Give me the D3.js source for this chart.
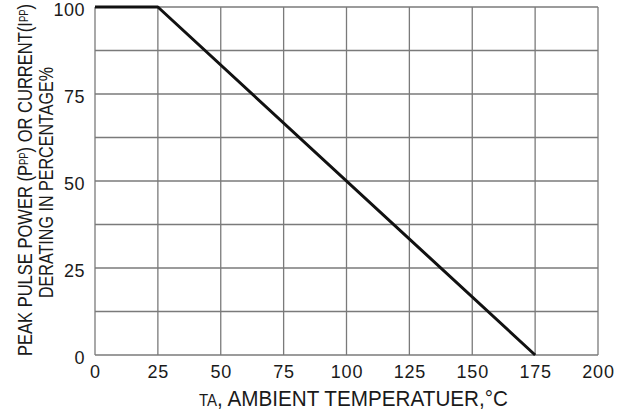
<!DOCTYPE html>
<html>
<head>
<meta charset="utf-8">
<script src="https://cdn.jsdelivr.net/npm/d3@7"></script>
<style>
  html, body { margin: 0; padding: 0; background: #fff; }
  svg { display: block; }
  text { font-family: "Liberation Sans", Arial, sans-serif; fill: #1a1a1a; }
</style>
</head>
<body>
<svg id="chart" width="631" height="412"></svg>
<script>
// Data
const temperature = [0, 25, 175];          // °C
const derating = [100, 100, 0];            // %
const xTicks = [0, 25, 50, 75, 100, 125, 150, 175, 200];
const yTicks = [0, 25, 50, 75, 100];
const yGrid = [0, 12.5, 25, 37.5, 50, 62.5, 75, 87.5, 100];

const svg = d3.select("#chart");
const plotLeft = 95, plotRight = 598, plotTop = 7, plotBottom = 355;

const x = d3.scaleLinear().domain([0, 200]).range([plotLeft, plotRight]);
const y = d3.scaleLinear().domain([0, 100]).range([plotBottom, plotTop]);

// Grid
const grid = svg.append("g");
grid.selectAll("line.v").data(xTicks).join("line")
  .attr("class", "v")
  .attr("x1", d => x(d)).attr("x2", d => x(d))
  .attr("y1", plotTop).attr("y2", plotBottom)
  .attr("stroke", "#7a7a7a").attr("stroke-width", 1.3);
grid.selectAll("line.h").data(yGrid).join("line")
  .attr("class", "h")
  .attr("y1", d => y(d)).attr("y2", d => y(d))
  .attr("x1", plotLeft).attr("x2", plotRight)
  .attr("stroke", "#7a7a7a").attr("stroke-width", 1.3);

// Axes (labels only)
const xAxis = d3.axisBottom(x).tickValues(xTicks).tickSize(0).tickPadding(0);
const gx = svg.append("g").attr("transform", `translate(0,${plotBottom})`).call(xAxis);
gx.select(".domain").remove();
gx.selectAll("text")
  .attr("dy", null).attr("y", 23)
  .style("font-size", "18px").style("letter-spacing", "0.8px")
  .attr("fill", "#1a1a1a");

const yAxis = d3.axisLeft(y).tickValues(yTicks).tickSize(0).tickPadding(0);
const gy = svg.append("g").attr("transform", `translate(${plotLeft},0)`).call(yAxis);
gy.select(".domain").remove();
gy.selectAll("text")
  .attr("dy", null).attr("x", -10).attr("y", 8.5)
  .style("font-size", "18px").style("letter-spacing", "0.5px")
  .attr("fill", "#1a1a1a");

// Curve
const line = d3.line().x((d, i) => x(temperature[i])).y(d => y(d));
svg.append("path")
  .datum(derating)
  .attr("d", line)
  .attr("fill", "none")
  .attr("stroke", "#111")
  .attr("stroke-width", 3)
  .attr("stroke-linejoin", "round");

// Y title line 1
const t1 = svg.append("text")
  .attr("transform", "translate(32,180) rotate(-90)")
  .attr("text-anchor", "middle")
  .style("font-size", "21px")
  .attr("textLength", 352)
  .attr("lengthAdjust", "spacingAndGlyphs");
t1.append("tspan").text("PEAK PULSE POWER (P");
t1.append("tspan").text("PP").style("font-size", "12px").attr("dy", -4);
t1.append("tspan").text(") OR CURRENT(I").attr("dy", 4);
t1.append("tspan").text("PP").style("font-size", "12px").attr("dy", -4);
t1.append("tspan").text(")").attr("dy", 4);

// Y title line 2
svg.append("text")
  .attr("transform", "translate(53,182.5) rotate(-90)")
  .attr("text-anchor", "middle")
  .style("font-size", "21px")
  .attr("textLength", 231)
  .attr("lengthAdjust", "spacingAndGlyphs")
  .text("DERATING IN PERCENTAGE%");

// X title
const xt = svg.append("text")
  .attr("x", 353.5).attr("y", 406)
  .attr("text-anchor", "middle")
  .style("font-size", "22px")
  .attr("textLength", 309)
  .attr("lengthAdjust", "spacingAndGlyphs");
xt.append("tspan").text("TA").style("font-size", "16px");
xt.append("tspan").text(", AMBIENT TEMPERATUER,°C");
</script>
</body>
</html>
